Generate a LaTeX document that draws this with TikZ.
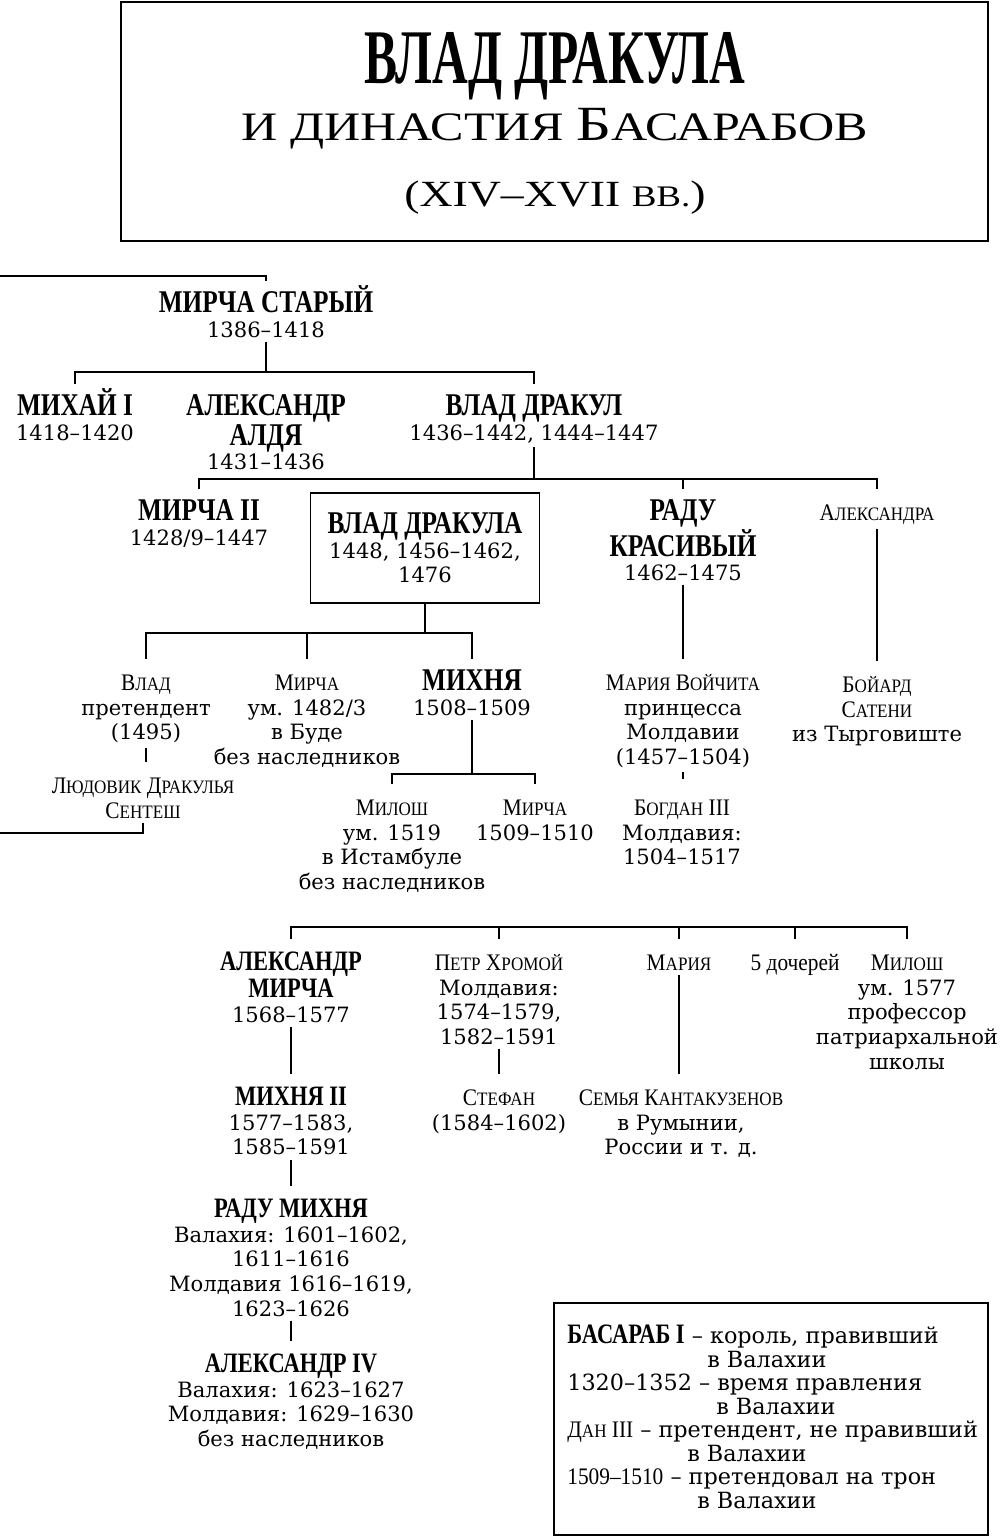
\documentclass[tikz,border=0pt]{standalone}
\usepackage{fontspec}
\setmainfont{DejaVu Serif}
\newfontfamily\scfont[FakeStretch=0.9]{Liberation Serif}
\newfontfamily\namefont[FakeStretch=0.8]{Liberation Serif}
\newfontfamily\titlefont[FakeStretch=0.64]{Liberation Serif}
\newfontfamily\subfont[FakeStretch=1.24]{Liberation Serif}
\newcommand\fl{\rule{0pt}{15.5pt}}
\newcommand\bnA[1]{{\namefont\bfseries\fontsize{18}{14}\selectfont #1}}
\newcommand\bnB[1]{{\namefont\bfseries\fontsize{16}{14}\selectfont #1}}
\newcommand\scn[1]{{\scfont\fontsize{13.5}{14}\selectfont #1}}
\newcommand\sk[1]{{\fontsize{10.8}{14}\selectfont #1}}
\tikzset{%
  link/.style={line width=0.8pt},
  person/.style={align=center,inner sep=0pt,outer sep=2.5pt,anchor=north,font=\fontsize{12}{14}\selectfont},
  mainbox/.style={draw,line width=1.1pt,inner sep=0pt,outer sep=0pt,minimum width=4.58cm,minimum height=2.2cm,align=center,font=\fontsize{12}{14}\selectfont},
  titlebox/.style={draw,line width=1.1pt},
}

\begin{document}
\begin{tikzpicture}[x=0.02cm,y=-0.02cm]
  \useasboundingbox (0,0) rectangle (1000,1537);

  % title
  \draw[titlebox] (121,2) rectangle (988,241);
  \node[anchor=base] (title) at (555,84) {\titlefont\bfseries\fontsize{44}{44}\selectfont ВЛАД ДРАКУЛА};
  \node[anchor=base] (subtitle) at (555,141) {\subfont\fontsize{23}{23}\selectfont И ДИНАСТИЯ {\fontsize{28}{28}\selectfont Б}АСАРАБОВ};
  \node[anchor=base] (period) at (555,207) {\subfont\fontsize{21}{21}\selectfont (XIV–XVII {\fontsize{17}{17}\selectfont ВВ.})};

  % generations
  \node[person] (mircha1) at (266,281) {\fl\bnA{МИРЧА СТАРЫЙ}\\1386–1418};
  \node[person] (mihai1) at (75,384) {\fl\bnA{МИХАЙ I}\\1418–1420};
  \node[person] (aldea) at (266,384) {\fl\bnA{АЛЕКСАНДР}\\\bnA{АЛДЯ}\\1431–1436};
  \node[person] (dracul) at (534,384) {\fl\bnA{ВЛАД ДРАКУЛ}\\1436–1442, 1444–1447};
  \node[person] (mircha2) at (199,489) {\fl\bnA{МИРЧА II}\\1428/9–1447};
  \node[mainbox] (dracula) at (425,548) {\bnA{ВЛАД ДРАКУЛА}\\1448, 1456–1462,\\1476};
  \node[person] (radu) at (683,489) {\fl\bnA{РАДУ}\\\bnA{КРАСИВЫЙ}\\1462–1475};
  \node[person] (alexandra) at (877,489) {\fl\scn{А\sk{ЛЕКСАНДРА}}};

  \node[person] (vlad) at (146,659) {\fl\scn{В\sk{ЛАД}}\\претендент\\(1495)};
  \node[person] (mirchaB) at (307,659) {\fl\scn{М\sk{ИРЧА}}\\ум. 1482/3\\в Буде\\без наследников};
  \node[person] (mihnea) at (472,659) {\fl\bnA{МИХНЯ}\\1508–1509};
  \node[person] (maria) at (683,659) {\fl\scn{М\sk{АРИЯ} В\sk{ОЙЧИТА}}\\принцесса\\Молдавии\\(1457–1504)};
  \node[person] (boiard) at (877,661) {\fl\scn{Б\sk{ОЙАРД}}\\\scn{С\sk{АТЕНИ}}\\из Тырговиште};
  \node[person] (ludovic) at (143,762) {\fl\scn{Л\sk{ЮДОВИК} Д\sk{РАКУЛЬЯ}}\\\scn{С\sk{ЕНТЕШ}}};
  \node[person] (milos1) at (392,784) {\fl\scn{М\sk{ИЛОШ}}\\ум. 1519\\в Истамбуле\\без наследников};
  \node[person] (mirchaC) at (535,784) {\fl\scn{М\sk{ИРЧА}}\\1509–1510};
  \node[person] (bogdan) at (682,784) {\fl\scn{Б\sk{ОГДАН} III}\\Молдавия:\\1504–1517};

  \node[person] (alexmircha) at (291,939) {\fl\bnB{АЛЕКСАНДР}\\[1.5pt]\bnB{МИРЧА}\\1568–1577};
  \node[person] (petru) at (499,939) {\fl\scn{П\sk{ЕТР} Х\sk{РОМОЙ}}\\Молдавия:\\1574–1579,\\1582–1591};
  \node[person] (mariaB) at (679,939) {\fl\scn{М\sk{АРИЯ}}};
  \node[person] (daughters) at (795,939) {\fl\scn{5 дочерей}};
  \node[person] (milos2) at (907,939) {\fl\scn{М\sk{ИЛОШ}}\\ум. 1577\\профессор\\патриархальной\\школы};
  \node[person] (mihnea2) at (291,1074) {\fl\bnB{МИХНЯ II}\\1577–1583,\\1585–1591};
  \node[person] (stefan) at (499,1074) {\fl\scn{С\sk{ТЕФАН}}\\(1584–1602)};
  \node[person] (cantac) at (681,1074) {\fl\scn{С\sk{ЕМЬЯ} К\sk{АНТАКУЗЕНОВ}}\\в Румынии,\\России и т. д.};
  \node[person] (radumihnea) at (291,1186) {\fl\bnB{РАДУ МИХНЯ}\\Валахия: 1601–1602,\\1611–1616\\Молдавия 1616–1619,\\1623–1626};
  \node[person] (alex4) at (291,1341) {\fl\bnB{АЛЕКСАНДР IV}\\Валахия: 1623–1627\\Молдавия: 1629–1630\\без наследников};

  % legend
  \draw[titlebox] (554,1303) rectangle (988,1535);
  \node[anchor=north west,inner sep=0pt,align=left,font=\fontsize{12.7}{13.4}\selectfont] (key) at (567,1316)
    {\fl\bnB{БАСАРАБ I} – король, правивший\\
     \hspace*{2.8cm}в Валахии\\
     1320–1352 – время правления\\
     \hspace*{2.98cm}в Валахии\\
     \scn{Д\sk{АН} III} – претендент, не правивший\\
     \hspace*{2.4cm}в Валахии\\
     \scn{1509–1510} – претендовал на трон\\
     \hspace*{2.6cm}в Валахии};

  % connectors
  \coordinate (edgeA) at (0,276);
  \coordinate (edgeB) at (0,833);
  \coordinate (busA) at (0,372);
  \coordinate (busB) at (0,479);
  \coordinate (busC) at (0,633);
  \coordinate (busD) at (0,774);
  \coordinate (busE) at (0,927);

  \draw[link] (edgeA) -| (mircha1.north);
  \draw[link] (mircha1.south) -- (mircha1.south |- busA);
  \draw[link] (mihai1.north) |- (dracul.north |- busA) -- (dracul.north);

  \draw[link] (dracul.south) -- (dracul.south |- busB);
  \draw[link] (mircha2.north) |- (alexandra.north |- busB) -- (alexandra.north);
  \draw[link] (radu.north) -- (radu.north |- busB);

  \draw[link] (dracula.south) -- (dracula.south |- busC);
  \draw[link] (vlad.north) |- (mihnea.north |- busC) -- (mihnea.north);
  \draw[link] (mirchaB.north) -- (mirchaB.north |- busC);
  \draw[link] (vlad.south) -- (vlad.south |- ludovic.north);
  \draw[link] (ludovic.south) |- (edgeB);

  \draw[link] (mihnea.south) -- (mihnea.south |- busD);
  \draw[link] (milos1.north) |- (mirchaC.north |- busD) -- (mirchaC.north);

  \draw[link] (radu.south) -- (maria.north);
  \draw[link,shorten >=3pt] (maria.south) -- (maria.south |- bogdan.north);
  \draw[link] (alexandra.south) -- (alexandra.south |- boiard.north);

  \draw[link] (alexmircha.north) |- (milos2.north |- busE) -- (milos2.north);
  \foreach \n in {petru,mariaB,daughters}
    \draw[link] (\n.north) -- (\n.north |- busE);
  \draw[link] (alexmircha.south) -- (mihnea2.north);
  \draw[link] (mihnea2.south) -- (radumihnea.north);
  \draw[link] (radumihnea.south) -- (alex4.north);
  \draw[link] (petru.south) -- (stefan.north);
  \draw[link] (mariaB.south) -- (mariaB.south |- cantac.north);
\end{tikzpicture}
\end{document}
